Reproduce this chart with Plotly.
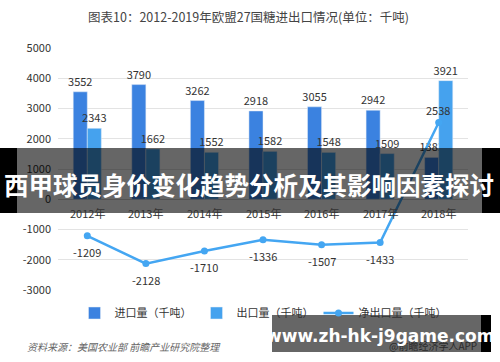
import plotly.graph_objects as go

years = ["2012年", "2013年", "2014年", "2015年", "2016年", "2017年", "2018年"]
imports = [3552, 3790, 3262, 2918, 3055, 2942, 1383]
exports = [2343, 1662, 1552, 1582, 1548, 1509, 3921]
net_exports = [-1209, -2128, -1710, -1336, -1507, -1433, 2538]
y_ticks = [5000, 4000, 3000, 2000, 1000, 0, -1000, -2000, -3000]

FONT = "Noto Sans CJK SC, Noto Sans, sans-serif"
L, R, T, B = 58, 32, 48, 72
W, H = 500, 362
PW, PH = W - L - R, H - T - B


def px(x):
    return (x - L) / PW


def py(y):
    return (H - B - y) / PH


fig = go.Figure()
fig.add_trace(go.Bar(
    x=years, y=imports, name="进口量（千吨）", marker_color="#3b82e0",
    text=[str(v) for v in imports], textposition="outside", constraintext="none",
    textfont=dict(size=11, color="#333333"), cliponaxis=False,
))
fig.add_trace(go.Bar(
    x=years, y=exports, name="出口量（千吨）", marker_color="#45a2ee",
    text=[str(v) for v in exports], textposition="outside", constraintext="none",
    textfont=dict(size=11, color="#333333"), cliponaxis=False,
))
fig.add_trace(go.Scatter(
    x=years, y=net_exports, name="净出口量（千吨）", mode="lines+markers",
    line=dict(color="#44a6f2", width=2.5), marker=dict(size=7, color="#44a6f2"),
    cliponaxis=False,
))

annotations = []
for yr in years:
    annotations.append(dict(x=yr, y=0, xref="x", yref="y", text=yr, showarrow=False,
                            yshift=-14, font=dict(size=11, color="#333333", family=FONT)))
for yr, v in zip(years, net_exports):
    annotations.append(dict(x=yr, y=v, xref="x", yref="y", text=str(v), showarrow=False,
                            yshift=(-16 if v < 0 else 12), xshift=(0 if v < 0 else -1),
                            font=dict(size=11, color="#333333", family=FONT)))

def pa(x, y, text, size, color, family=FONT, xanchor="center"):
    return dict(x=px(x), y=py(y), xref="paper", yref="paper", showarrow=False,
                xanchor=xanchor, yanchor="middle", text=text,
                font=dict(size=size, color=color, family=family))

annotations += [
    pa(248, 16, "图表10：2012-2019年欧盟27国糖进出口情况(单位：千吨)", 12.5, "#444444"),
    pa(25, 346, "<i>资料来源：美国农业部 前瞻产业研究院整理</i>", 10, "#666666", xanchor="left"),
    pa(479, 345, "@前瞻经济学人APP", 10, "#2b2b2b", xanchor="right"),
    pa(249, 184, "<b>西甲球员身价变化趋势分析及其影响因素探讨</b>", 24.5, "#ffffff"),
    pa(380, 336, "<b>www.zh-hk-j9game.com</b>", 17, "#ffffff", family="DejaVu Sans, sans-serif"),
]

shapes = [
    dict(type="rect", xref="paper", yref="paper", x0=px(0), x1=px(17), y0=py(213), y1=py(148),
         fillcolor="#000000", line_width=0, layer="above"),
    dict(type="rect", xref="paper", yref="paper", x0=px(482), x1=px(500), y0=py(213), y1=py(148),
         fillcolor="#000000", line_width=0, layer="above"),
    dict(type="rect", xref="paper", yref="paper", x0=px(17), x1=px(482), y0=py(213), y1=py(148),
         fillcolor="rgba(0,0,0,0.6)", line_width=0, layer="above"),
    dict(type="rect", xref="paper", yref="paper", x0=px(272), x1=px(481), y0=py(352), y1=py(315),
         fillcolor="rgba(0,0,0,0.6)", line_width=0, layer="above"),
    dict(type="rect", xref="paper", yref="paper", x0=px(481), x1=px(491), y0=py(352), y1=py(315),
         fillcolor="#000000", line_width=0, layer="above"),
]

fig.update_layout(
    width=W, height=H, margin=dict(l=L, r=R, t=T, b=B),
    paper_bgcolor="#ffffff", plot_bgcolor="#ffffff",
    font=dict(family=FONT, size=11, color="#333333"),
    barmode="group", bargap=0.52, bargroupgap=0,
    showlegend=True,
    legend=dict(orientation="h", x=0.5, xanchor="center", y=py(313), yanchor="middle",
                bgcolor="rgba(0,0,0,0)",
                font=dict(size=11, color="#333333"), itemwidth=30, tracegroupgap=0),
    xaxis=dict(showticklabels=False, showgrid=False, showline=False, ticks=""),
    yaxis=dict(range=[-3000, 5000], tickvals=y_ticks, ticktext=[str(v) for v in y_ticks],
               showgrid=True, gridcolor="#e3e3e3", gridwidth=1, zeroline=True,
               zerolinecolor="#d0d0d0", zerolinewidth=1, tickfont=dict(size=11, color="#333333"),
               ticks="", ticklabelstandoff=6),
    annotations=annotations, shapes=shapes,
)

fig.write_html("out.html")
